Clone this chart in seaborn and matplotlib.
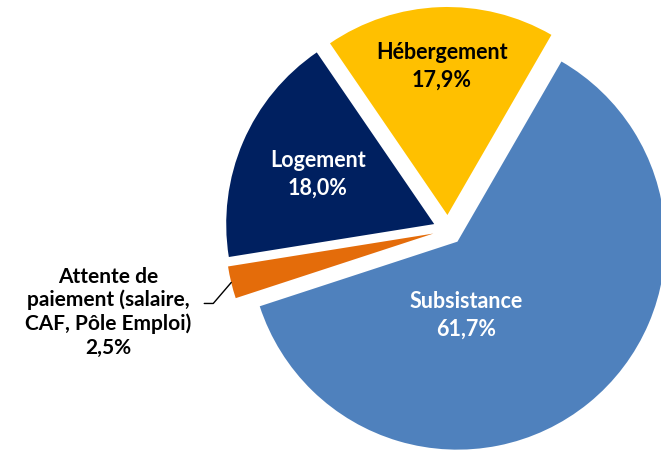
import numpy as np
import matplotlib.pyplot as plt
import seaborn as sns

# données du graphique
categories = ['Subsistance', 'Attente de\npaiement (salaire,\nCAF, Pôle Emploi)', 'Logement', 'Hébergement']
values = [61.7, 2.5, 18.0, 17.9]
colors = ['#4F81BD', '#E46C0A', '#002060', '#FFC000']
text_colors = ['white', 'black', 'white', 'black']

sns.set_style('white')
plt.rcParams['font.family'] = ['Lato', 'DejaVu Sans']

W, H = 661, 451
fig = plt.figure(figsize=(W / 100, H / 100), dpi=100)
ax = fig.add_axes([0, 0, 1, 1])

R = 208
wedges, _ = ax.pie(values, colors=colors, startangle=60, counterclock=False,
                   explode=[15] * 4, radius=R, center=(448, 221),
                   wedgeprops=dict(linewidth=0))
# pie() remet les limites, on les fixe après
ax.set_xlim(0, W)
ax.set_ylim(0, H)
ax.set_aspect('equal')
ax.axis('off')


def pct(v):
    return f'{v:.1f}'.replace('.', ',') + '%'


# (distance relative au rayon, angle ou None = bissectrice)
inner_pos = {0: (0.355, -83), 2: (0.61, None), 3: (0.715, None)}
for i, w in enumerate(wedges):
    cx, cy = w.center
    mid = (w.theta1 + w.theta2) / 2
    if i in inner_pos:
        d, a = inner_pos[i]
        a = mid if a is None else a
        x = cx + d * R * np.cos(np.radians(a))
        y = cy + d * R * np.sin(np.radians(a))
        ax.text(x, y, f'{categories[i]}\n{pct(values[i])}', ha='center', va='center',
                color=text_colors[i], fontsize=15.5, fontweight='bold', linespacing=1.4)
    else:
        # étiquette externe avec ligne de rappel
        x0 = cx + R * np.cos(np.radians(mid))
        y0 = cy + R * np.sin(np.radians(mid))
        ax.plot([x0, x0 - 18, x0 - 27], [y0, y0 - 21, y0 - 21], color='black', lw=1)
        ax.text(108, 139, f'{categories[i]}\n{pct(values[i])}', ha='center', va='center',
                color=text_colors[i], fontsize=15, fontweight='bold', linespacing=1.2)

fig.savefig('out.png', dpi=100)
